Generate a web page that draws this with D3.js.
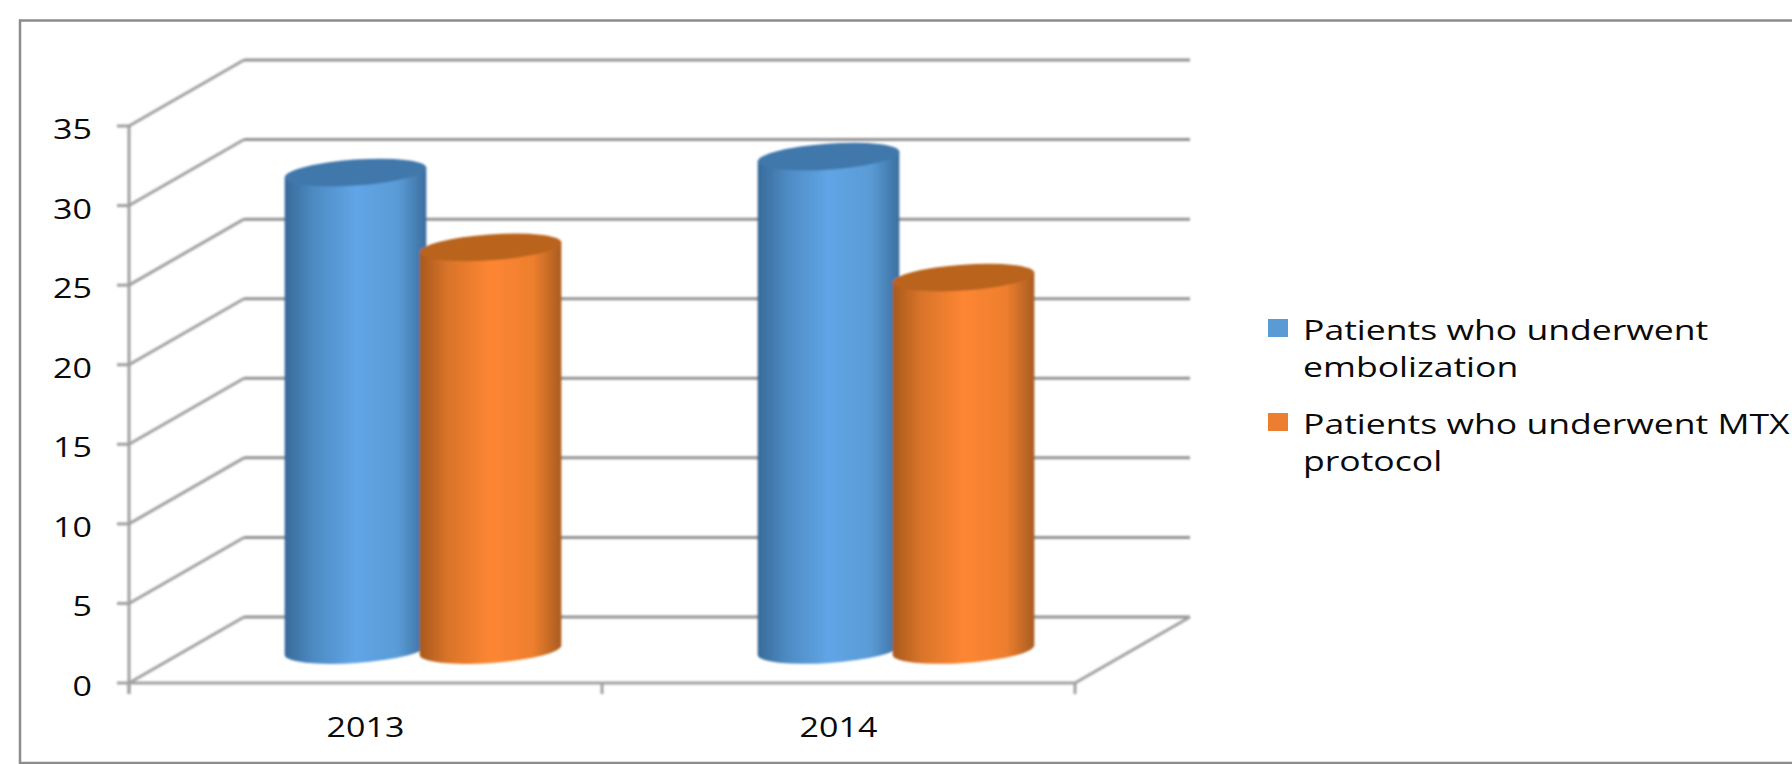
<!DOCTYPE html>
<html><head><meta charset="utf-8">
<script src="https://cdn.jsdelivr.net/npm/d3@7"></script>
<style>html,body{margin:0;padding:0;background:#fff;overflow:hidden}svg{display:block}text{font-family:"Open Sans",sans-serif;fill:#0a0a0a}</style>
</head><body><svg id="c" width="1792" height="764"></svg>
<script>
const categories = ["2013","2014"];
const seriesNames = ["Patients who underwent embolization","Patients who underwent MTX protocol"];
const legendLines = [["Patients who underwent","embolization"],["Patients who underwent MTX","protocol"]];
const embolization = [30,31];
const mtx = [25.3,23.4];
const yTicks = [0,5,10,15,20,25,30,35];
const seriesValues = [embolization, mtx];

const svg = d3.select("#c");
const depthX = 115, depthY = -66;
const y = d3.scaleLinear().domain([0,35]).range([683,126]);
const x = d3.scaleBand().domain(categories).range([129,1075]);
const inner = d3.scaleBand().domain(seriesNames).range([-135,135]);
const rx = 71, ry = 13, tilt = 4;

const defs = svg.append("defs");
const soft = defs.append("filter").attr("id","soft").attr("x","-5%").attr("y","-5%").attr("width","110%").attr("height","110%");
soft.append("feGaussianBlur").attr("stdDeviation",0.8);
const palettes = [["#376a99","#4d8ac2","#60a5e6","#5a9bd6","#3b6f9f"],["#a8591c","#d9742a","#fd8632","#ee7f2e","#a85c20"]];
palettes.forEach((p,i)=>{
  const g = defs.append("linearGradient").attr("id","g"+i);
  [0,0.2,0.5,0.8,1].forEach((o,k)=>g.append("stop").attr("offset",o).attr("stop-color",p[k]));
});

// frame
svg.append("rect").attr("x",20).attr("y",20.5).attr("width",1775).attr("height",742.5).attr("fill","none").attr("stroke","#8c8c8c").attr("stroke-width",2.5);

// walls
const wall = svg.append("g").attr("filter","url(#soft)").attr("stroke","#a0a0a0").attr("stroke-width",3).attr("fill","none");
const [x0,x1] = x.range();
yTicks.forEach(t=>{
  wall.append("line").attr("x1",x0).attr("y1",y(t)).attr("x2",x0+depthX).attr("y2",y(t)+depthY);
  wall.append("line").attr("x1",x0+depthX).attr("y1",y(t)+depthY).attr("x2",x1+depthX).attr("y2",y(t)+depthY).attr("stroke","#939393");
  wall.append("line").attr("x1",x0-12).attr("y1",y(t)).attr("x2",x0).attr("y2",y(t));
});
wall.append("line").attr("x1",x0).attr("y1",y(35)).attr("x2",x0).attr("y2",y(0)+11);
wall.append("line").attr("x1",x0).attr("y1",y(0)).attr("x2",x1).attr("y2",y(0));
wall.append("line").attr("x1",x1).attr("y1",y(0)).attr("x2",x1+depthX).attr("y2",y(0)+depthY);
x.domain().concat(["end"]).forEach((c,i)=>{
  const px = x0 + i*x.step();
  wall.append("line").attr("x1",px).attr("y1",y(0)).attr("x2",px).attr("y2",y(0)+11);
});

// y labels
svg.append("g").selectAll("text").data(yTicks).join("text")
  .attr("transform",d=>`translate(92,${y(d)+13}) scale(1.26,1)`).attr("text-anchor","end").attr("font-size",27).text(d=>d);
// x labels
svg.append("g").selectAll("text").data(categories).join("text")
  .attr("transform",d=>`translate(${x(d)+x.bandwidth()/2},737) scale(1.26,1)`).attr("text-anchor","middle").attr("font-size",27).text(d=>d);

// cylinders
const rad = tilt*Math.PI/180, cx = Math.cos(rad)*rx, cy = Math.sin(rad)*rx;
const base = y(0)+depthY/2;
const bars = svg.append("g").attr("filter","url(#soft)");
seriesNames.forEach((s,si)=>{
  categories.forEach((c,ci)=>{
    const center = x(c)+x.bandwidth()/2+depthX/2+inner(s)+inner.bandwidth()/2;
    const top = base-(y(0)-y(seriesValues[si][ci]));
    const g = bars.append("g");
    g.append("path").attr("fill",`url(#g${si})`).attr("d",
      `M${center-cx},${top+cy}L${center-cx},${base+cy}`+
      `A${rx},${ry} ${-tilt} 0 0 ${center+cx},${base-cy}`+
      `L${center+cx},${top-cy}Z`);
    g.append("ellipse").attr("cx",center).attr("cy",top).attr("rx",rx).attr("ry",ry)
      .attr("transform",`rotate(${-tilt} ${center} ${top})`).attr("fill",si===0?"#3f78ab":"#b9631f");
  });
});

// legend
const legendColors = ["#5b9bd5","#ed7d31"];
const legendY = [319,413];
const legendG = svg.append("g");
seriesNames.forEach((s,i)=>{
  legendG.append("rect").attr("x",1268).attr("y",legendY[i]).attr("width",20).attr("height",18).attr("fill",legendColors[i]);
  legendLines[i].forEach((ln,k)=>{
    legendG.append("text").attr("transform",`translate(1303,${legendY[i]+21+k*37}) scale(1.27,1)`).attr("font-size",28).text(ln);
  });
});
</script></body></html>
